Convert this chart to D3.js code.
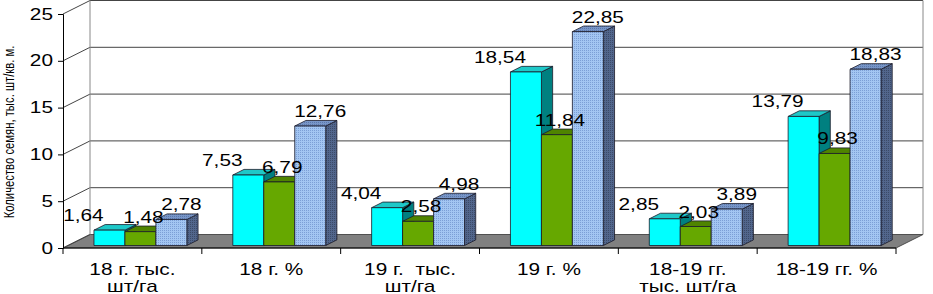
<!DOCTYPE html>
<html>
<head>
<meta charset="utf-8">
<script src="https://cdn.jsdelivr.net/npm/d3@7"></script>
<style>
  body { margin: 0; background: #fff; }
  svg text { font-family: "Liberation Sans", Arial, sans-serif; fill: #000; }
</style>
</head>
<body>
<svg id="chart"></svg>
<script>

// categories (multi-line labels)
let categories = [
    ["18 г. тыс.", "шт/га"],
    ["18 г. %"],
    ["19 г.  тыс.", "шт/га"],
    ["19 г. %"],
    ["18-19 гг.", "тыс. шт/га"],
    ["18-19 гг. %"]
]
let seriesCyan = [1.64, 7.53, 4.04, 18.54, 2.85, 13.79]
let seriesGreen = [1.48, 6.79, 2.58, 11.84, 2.03, 9.83]
let seriesBlue = [2.78, 12.76, 4.98, 22.85, 3.89, 18.83]
let yTicks = [0, 5, 10, 15, 20, 25]
let yTitle = "Количество семян, тыс. шт/кв. м."

let chartW = 933, chartH = 294
let plotLeft = 63, plotRight = 896, plotBottom = 248, plotTop = 14
let depthX = 27, depthY = -13.5   // full depth of the walls
let barD0 = 0.185, barD1 = 0.6    // bar depth, as fraction of the wall depth
let SX = 1.3                      // horizontal stretch of text (as in the picture)

let svg = d3.select('#chart').attr('width', chartW).attr('height', chartH)

let x = d3.scaleBand().domain(d3.range(categories.length)).range([plotLeft, plotRight])
let y = d3.scaleLinear().domain([0, 25]).range([plotBottom, plotTop])
let bw = x.bandwidth()
let inner = d3.scaleBand().domain([0, 1, 2]).range([bw * 26 / 139, bw * 119 / 139])

// project a point of the front plane back by a depth fraction
function P(px, v, d) {
    return [px + d * depthX, y(v) + d * depthY]
}
function poly(pts) {
    return pts.map(p => p.join(',')).join(' ')
}

let defs = svg.append('defs')
let pat = defs.append('pattern').attr('id', 'dots')
    .attr('width', 2).attr('height', 2).attr('patternUnits', 'userSpaceOnUse')
pat.append('rect').attr('width', 2).attr('height', 2).attr('fill', '#a3c6f2')
pat.append('rect').attr('width', 1).attr('height', 1).attr('fill', '#7c9fd6')
let pat2 = defs.append('pattern').attr('id', 'dotsDark')
    .attr('width', 2).attr('height', 2).attr('patternUnits', 'userSpaceOnUse')
pat2.append('rect').attr('width', 2).attr('height', 2).attr('fill', '#52668c')
pat2.append('rect').attr('width', 1).attr('height', 1).attr('fill', '#3b4a68')
let pat3 = defs.append('pattern').attr('id', 'dotsTop')
    .attr('width', 2).attr('height', 2).attr('patternUnits', 'userSpaceOnUse')
pat3.append('rect').attr('width', 2).attr('height', 2).attr('fill', '#7896c8')
pat3.append('rect').attr('width', 1).attr('height', 1).attr('fill', '#5c78aa')

let series = [
    { values: seriesCyan, front: '#00ffff', top: '#1ec8c8', side: '#008080', dx: -26 },
    { values: seriesGreen, front: '#66a800', top: '#4f8400', side: '#3d6400', dx: 3 },
    { values: seriesBlue, front: 'url(#dots)', top: 'url(#dotsTop)', side: 'url(#dotsDark)', dx: 10 }
]

// floor
svg.append('polygon')
    .attr('points', poly([P(plotLeft, 0, 0), P(plotRight, 0, 0), P(plotRight, 0, 1), P(plotLeft, 0, 1)]))
    .attr('fill', '#808080').attr('stroke', '#333').attr('stroke-width', 0.8)

// back wall + left wall grid
let grid = svg.append('g').attr('stroke', '#444').attr('stroke-width', 1).attr('fill', 'none')
yTicks.forEach(function (t) {
    let a = P(plotLeft, t, 0), b = P(plotLeft, t, 1), c = P(plotRight, t, 1)
    if (t > 0) grid.append('line').attr('x1', b[0]).attr('y1', b[1]).attr('x2', c[0]).attr('y2', c[1])
    grid.append('line').attr('x1', a[0]).attr('y1', a[1]).attr('x2', b[0]).attr('y2', b[1])
})
let bl = P(plotLeft, 0, 1), tl = P(plotLeft, 25, 1), br = P(plotRight, 0, 1), tr = P(plotRight, 25, 1)
grid.append('line').attr('x1', bl[0]).attr('y1', bl[1]).attr('x2', tl[0]).attr('y2', tl[1]).attr('stroke', '#888')
grid.append('line').attr('x1', br[0]).attr('y1', br[1]).attr('x2', tr[0]).attr('y2', tr[1]).attr('stroke', '#888')

// y axis
let yAxis = svg.append('g').attr('transform', `translate(${plotLeft},0)`)
    .call(d3.axisLeft(y).tickValues(yTicks).tickSize(5).tickPadding(5))
yAxis.select('.domain').attr('stroke', '#000')
yAxis.selectAll('.tick line').attr('stroke', '#000')
yAxis.selectAll('text').attr('font-size', 16)
    .attr('text-anchor', 'end')
    .attr('transform', function () {
        let xx = +d3.select(this).attr('x') || -10
        return `translate(${xx},0) scale(${SX},1) translate(${-xx},0)`
    })

// x axis
let xAxis = svg.append('g').attr('transform', `translate(0,${plotBottom})`)
xAxis.append('line').attr('x1', plotLeft).attr('x2', plotRight).attr('stroke', '#000')
d3.range(categories.length + 1).forEach(function (i) {
    let px = plotLeft + i * bw
    xAxis.append('line').attr('x1', px).attr('x2', px).attr('y1', 0).attr('y2', 6).attr('stroke', '#000')
})
categories.forEach(function (lines, i) {
    let cx = x(i) + bw / 2
    lines.forEach(function (line, j) {
        svg.append('text')
            .attr('transform', `translate(${cx},${275 + j * 17}) scale(${SX},1)`)
            .attr('text-anchor', 'middle').attr('font-size', 16)
            .style('white-space', 'pre')
            .text(line)
    })
})

// bars, drawn left to right so the next bar hides the previous side
let bars = svg.append('g').attr('stroke', '#1a1a2a').attr('stroke-width', 0.8).attr('stroke-linejoin', 'round')
categories.forEach(function (c, i) {
    series.forEach(function (s, k) {
        let v = s.values[i]
        let x0 = x(i) + inner(k), x1 = x0 + inner.bandwidth()
        bars.append('polygon').attr('fill', s.side)
            .attr('points', poly([P(x1, 0, barD0), P(x1, 0, barD1), P(x1, v, barD1), P(x1, v, barD0)]))
        bars.append('polygon').attr('fill', s.top)
            .attr('points', poly([P(x0, v, barD0), P(x1, v, barD0), P(x1, v, barD1), P(x0, v, barD1)]))
        bars.append('polygon').attr('fill', s.front)
            .attr('points', poly([P(x0, 0, barD0), P(x1, 0, barD0), P(x1, v, barD0), P(x0, v, barD0)]))
    })
})

// data labels
let fmt = d3.format('.2f')
categories.forEach(function (c, i) {
    series.forEach(function (s, k) {
        let v = s.values[i]
        let p = P(x(i) + inner(k) + inner.bandwidth() / 2, v, barD0)
        svg.append('text')
            .attr('transform', `translate(${p[0] + s.dx},${p[1] - 9}) scale(${SX},1)`)
            .attr('text-anchor', 'middle').attr('font-size', 16)
            .text(fmt(v).replace('.', ','))
    })
})

// y title
svg.append('text')
    .attr('transform', `translate(14,${132}) rotate(-90) scale(1,${SX})`)
    .attr('text-anchor', 'middle').attr('font-size', 11.3)
    .text(yTitle)

</script>
</body>
</html>
